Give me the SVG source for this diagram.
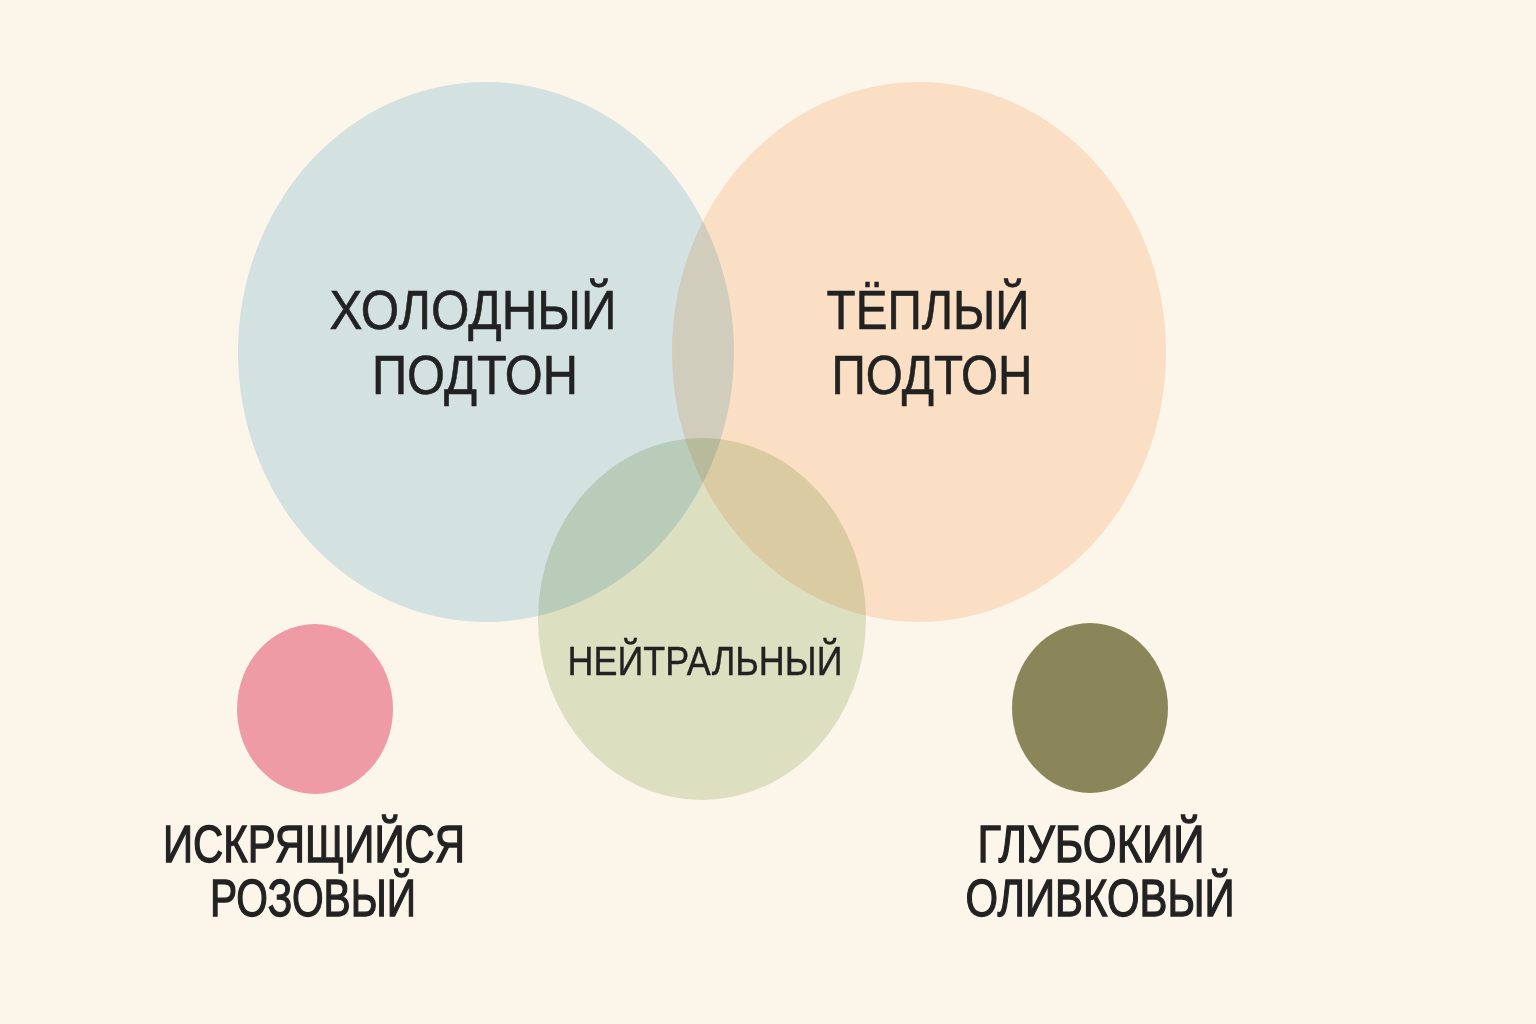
<svg xmlns="http://www.w3.org/2000/svg" width="1536" height="1024" viewBox="0 0 1536 1024">
<style>
.big{font-family:"Liberation Sans",Arial,sans-serif;font-size:55px;fill:#222;text-anchor:middle;stroke:#222;stroke-width:0.6}
.mid{font-family:"Liberation Sans",Arial,sans-serif;font-size:41px;fill:#222;text-anchor:middle;stroke:#222;stroke-width:0.4}
.lbl{font-family:"Liberation Sans",Arial,sans-serif;font-size:52px;fill:#222;text-anchor:middle;stroke:#222;stroke-width:1.3}
.blend{mix-blend-mode:multiply}
</style>
<rect width="1536" height="1024" fill="#FCF5EA"/>
<g id="cool">
<ellipse class="blend" cx="486" cy="352" rx="248" ry="270" fill="#D6EBF5"/>
</g>
<g id="warm">
<ellipse class="blend" cx="919" cy="352" rx="247" ry="270" fill="#FDE9D6"/>
</g>
<g id="neutral">
<ellipse class="blend" cx="702" cy="619" rx="164" ry="181" fill="#E0E8D3"/>
</g>
<g id="cool-text">
<text class="big"><tspan x="473" y="329" textLength="287" lengthAdjust="spacingAndGlyphs">ХОЛОДНЫЙ</tspan><tspan x="475" y="394" textLength="206" lengthAdjust="spacingAndGlyphs">ПОДТОН</tspan></text>
</g>
<g id="warm-text">
<text class="big"><tspan x="928" y="329" textLength="203" lengthAdjust="spacingAndGlyphs">ТЁПЛЫЙ</tspan><tspan x="932" y="394" textLength="201" lengthAdjust="spacingAndGlyphs">ПОДТОН</tspan></text>
</g>
<g id="neutral-text">
<text class="mid" x="705" y="675" textLength="275" lengthAdjust="spacingAndGlyphs">НЕЙТРАЛЬНЫЙ</text>
</g>
<g id="pink">
<ellipse cx="315" cy="709" rx="78" ry="85" fill="#EE9BA5"/>
<text class="lbl"><tspan x="314" y="862" textLength="302" lengthAdjust="spacingAndGlyphs">ИСКРЯЩИЙСЯ</tspan><tspan x="313" y="916" textLength="206" lengthAdjust="spacingAndGlyphs">РОЗОВЫЙ</tspan></text>
</g>
<g id="olive">
<ellipse cx="1090" cy="708" rx="78" ry="85" fill="#8B865A"/>
<text class="lbl"><tspan x="1091" y="862" textLength="227" lengthAdjust="spacingAndGlyphs">ГЛУБОКИЙ</tspan><tspan x="1100" y="916" textLength="269" lengthAdjust="spacingAndGlyphs">ОЛИВКОВЫЙ</tspan></text>
</g>
<g id="connectors"></g>
</svg>
